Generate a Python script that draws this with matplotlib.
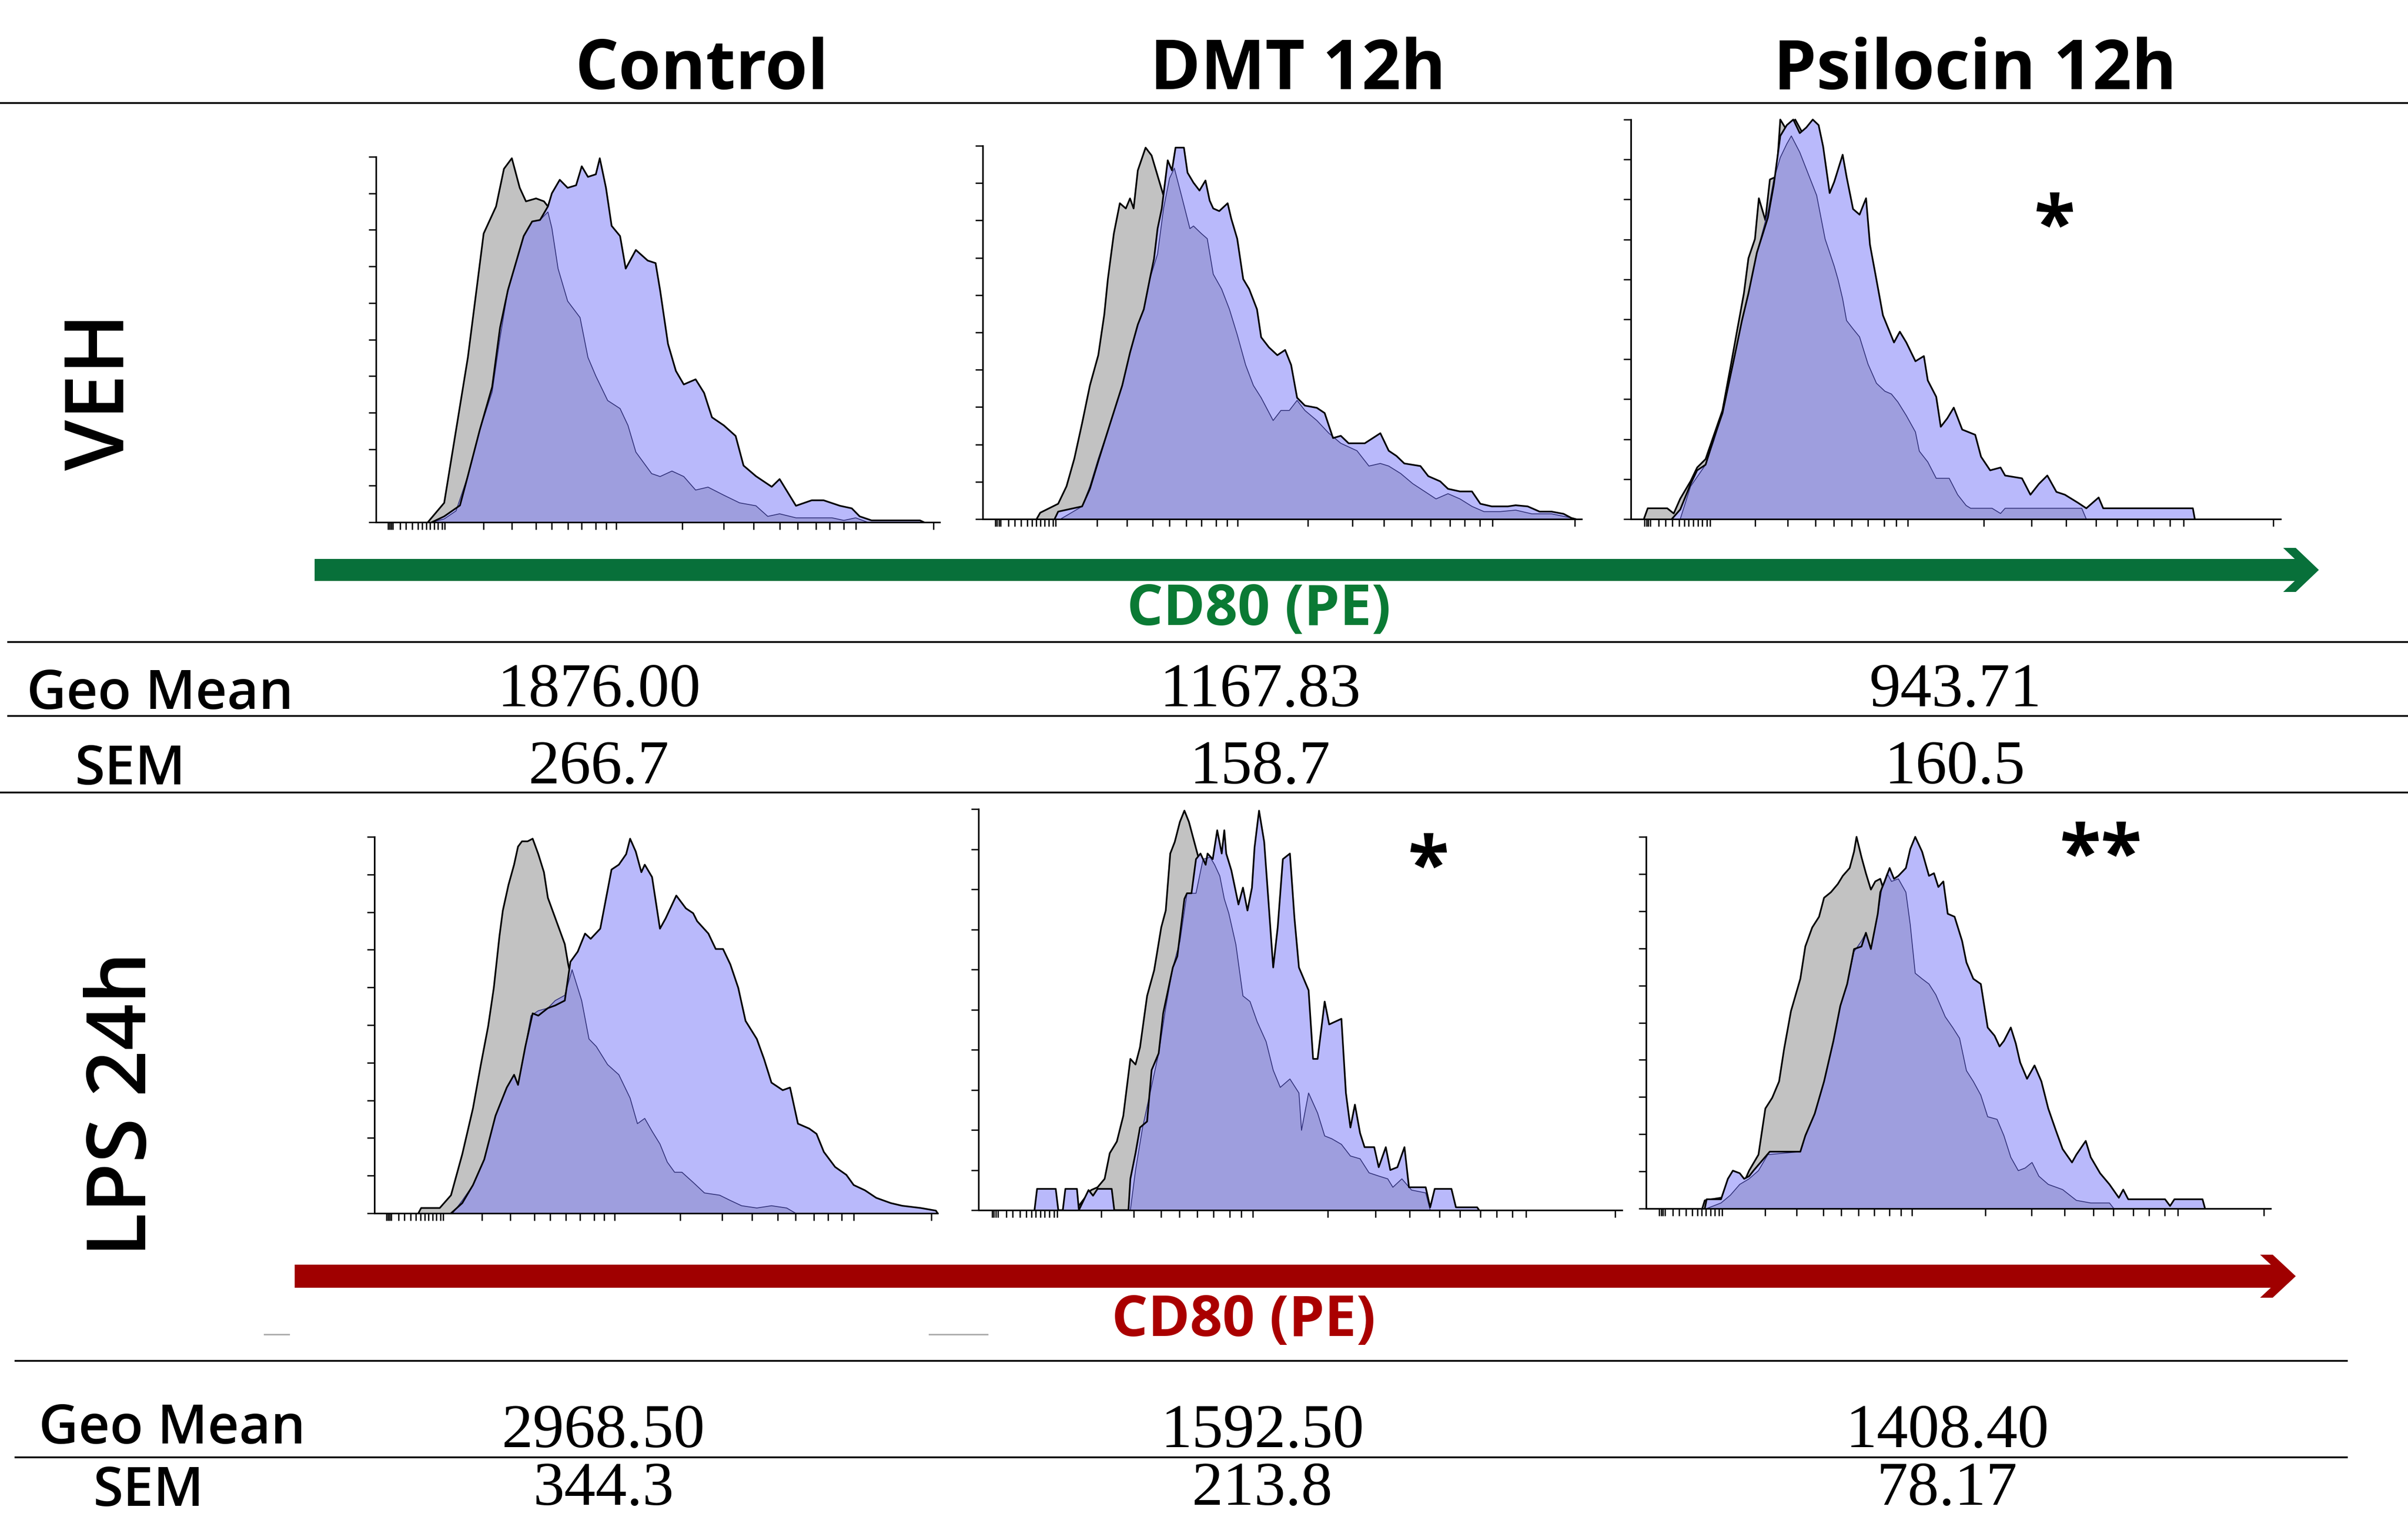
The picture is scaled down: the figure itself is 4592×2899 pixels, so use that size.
import matplotlib
matplotlib.use('Agg')
import matplotlib.pyplot as plt

W, H = 4592, 2899

col_labels = ['Control', 'DMT 12h', 'Psilocin 12h']
row_labels = ['VEH', 'LPS 24h']
axis_label = 'CD80 (PE)'

veh_geo = ['1876.00', '1167.83', '943.71']
veh_sem = ['266.7', '158.7', '160.5']
lps_geo = ['2968.50', '1592.50', '1408.40']
lps_sem = ['344.3', '213.8', '78.17']

veh_stars = ['', '', '*']
lps_stars = ['', '*', '**']

# histograms: x = channel (0-1000 of the axis), y = % of max
# gray = unstained, light = light lavender overlay, dark = darker purple overlay
veh_ctrl_gray_x = [92, 121, 142, 163, 177, 191, 213, 227, 241, 255, 266, 284, 298, 305, 340, 380, 420, 460, 520, 600, 700, 800]
veh_ctrl_gray_y = [0, 5.3, 25.2, 45.1, 62.0, 79.0, 86.4, 96.7, 99.6, 91.5, 87.8, 88.6, 87.8, 86.4, 75, 55, 38, 25, 14, 6, 2, 0]
veh_ctrl_light_x = [99, 121, 149, 163, 184, 206, 220, 234, 248, 262, 277, 291, 305, 312, 326, 340, 355, 365, 376, 390,
                    397, 408, 418, 433, 443, 461, 482, 496, 504, 518, 532, 546, 567, 582, 596, 617, 638, 652, 674, 702,
                    716, 745, 773, 794, 823, 844, 858, 879, 965, 972]
veh_ctrl_light_y = [0, 1.6, 4.6, 12.7, 25.2, 37.0, 53.2, 63.5, 70.9, 78.3, 82.3, 82.7, 86.4, 90.0, 93.7, 91.5, 92.2, 97.4, 94.5, 95.2,
                    99.6, 91.5, 81.1, 78.3, 69.4, 74.5, 71.6, 70.9, 63.5, 48.8, 41.4, 37.7, 39.1, 35.4, 28.7, 26.5, 23.6, 15.5, 12.6, 9.7,
                    11.8, 4.5, 6.0, 6.0, 4.5, 3.8, 1.6, 0.5, 0.5, 0]
veh_ctrl_dark_x = [99, 121, 142, 163, 184, 206, 220, 234, 248, 262, 277, 291, 305, 312, 323, 340, 362, 376, 390, 411,
                   433, 447, 461, 489, 504, 525, 546, 567, 589, 617, 645, 674, 695, 716, 745, 809, 830, 851, 872]
veh_ctrl_dark_y = [0, 0.9, 3.1, 12.7, 25.2, 35.6, 50.4, 63.5, 70.9, 78.3, 82.3, 82.7, 84.9, 80.5, 69.4, 60.5, 56.0, 45.1, 40.0, 33.3,
                   31.1, 26.5, 19.2, 13.3, 12.5, 14.0, 12.5, 8.8, 9.6, 7.4, 5.3, 4.5, 1.6, 2.3, 1.2, 1.2, 0.5, 1.2, 0]

veh_dmt_gray_x = [90, 96, 126, 140, 153, 166, 179, 193, 203, 209, 219, 229, 239, 246, 252, 259, 272, 282, 292, 302,
                  330, 360, 400, 460, 520, 600, 700, 800]
veh_dmt_gray_y = [0, 1.7, 4.1, 8.8, 16.2, 25.7, 35.8, 43.9, 54.8, 64.3, 76.5, 84.6, 83.2, 85.9, 83.2, 93.4, 99.5, 97.4, 92.0, 86.6,
                  70, 50, 35, 20, 12, 6, 2, 0]
veh_dmt_light_x = [120, 126, 166, 179, 193, 213, 233, 246, 259, 269, 279, 286, 292, 299, 309, 316, 322, 336, 342, 352,
                   362, 372, 379, 385, 395, 409, 415, 425, 435, 445, 458, 465, 478, 492, 505, 515, 525, 538, 558, 571,
                   585, 598, 611, 638, 664, 678, 691, 704, 731, 744, 764, 777, 797, 817, 831, 850, 877, 890, 910, 930,
                   950, 970, 983, 990]
veh_dmt_light_y = [0, 2.0, 3.4, 8.1, 15.5, 25.7, 35.8, 44.6, 52.1, 56.2, 64.3, 69.7, 77.8, 83.2, 96.1, 93.4, 99.5, 99.5, 92.8, 90.1,
                   88.0, 90.7, 85.3, 83.2, 82.5, 84.6, 80.5, 75.1, 64.3, 61.6, 56.2, 48.7, 46.0, 43.9, 45.3, 41.3, 32.5, 30.4, 29.8, 28.4,
                   21.7, 22.3, 20.3, 20.3, 23.0, 18.3, 16.9, 14.9, 14.2, 11.5, 10.1, 8.1, 7.4, 7.4, 4.1, 3.4, 3.4, 3.7, 3.4, 2.0,
                   2.0, 1.4, 0.3, 0]
veh_dmt_dark_x = [130, 166, 179, 193, 213, 233, 246, 259, 269, 279, 292, 302, 312, 320, 332, 346, 352, 365, 375, 385,
                  399, 412, 425, 439, 452, 465, 485, 498, 512, 525, 538, 558, 578, 598, 625, 645, 664, 678, 698, 718,
                  738, 757, 777, 797, 817, 837, 864, 890, 917, 950, 983, 990]
veh_dmt_dark_y = [0, 3.4, 8.8, 16.2, 25.7, 35.8, 44.6, 52.1, 56.2, 64.3, 71.0, 83.2, 91.3, 94.0, 86.6, 77.8, 78.5, 76.5, 75.1, 65.6,
                  61.6, 56.2, 49.4, 41.3, 35.8, 32.5, 26.4, 29.1, 29.1, 31.8, 29.1, 26.4, 23.0, 20.3, 18.3, 14.2, 14.9, 14.2, 12.2, 9.5,
                  7.4, 5.4, 6.8, 5.4, 3.4, 2.0, 2.0, 2.4, 1.4, 1.4, 0.3, 0]

veh_psi_gray_x = [20, 26, 56, 66, 76, 92, 102, 115, 125, 141, 155, 164, 174, 181, 191, 197, 207, 214, 224, 230,
                  240, 253, 263, 290, 330, 380, 430, 500, 580, 680, 780]
veh_psi_gray_y = [0, 2.7, 2.7, 1.4, 5.1, 9.5, 12.9, 15.0, 19.7, 27.2, 39.5, 47.6, 56.5, 65.3, 70.1, 80.3, 74.8, 85.0, 85.7, 100,
                  97.3, 100, 97, 85, 65, 45, 28, 14, 6, 2, 0]
veh_psi_light_x = [63, 76, 92, 102, 115, 128, 141, 158, 171, 181, 194, 211, 220, 230, 240, 250, 260, 270, 280, 289,
                   296, 306, 313, 326, 332, 342, 352, 362, 368, 378, 388, 405, 414, 424, 438, 451, 457, 470, 477, 487,
                   497, 510, 530, 539, 553, 569, 576, 602, 615, 628, 641, 655, 668, 688, 701, 720, 727, 799, 865, 868]
veh_psi_light_y = [0, 2.4, 8.8, 12.2, 13.6, 20.4, 26.5, 39.5, 49.7, 56.5, 66.7, 75.5, 83.7, 95.9, 98.6, 100, 96.6, 98.0, 100, 98.6,
                   93.2, 81.6, 84.4, 91.2, 85.7, 77.6, 76.2, 80.3, 68.7, 59.9, 51.0, 44.2, 46.9, 44.2, 39.5, 40.8, 34.7, 30.6, 23.1, 25.2,
                   27.9, 22.4, 21.1, 15.6, 12.2, 12.9, 10.9, 10.2, 6.1, 8.8, 10.9, 6.8, 6.1, 4.1, 2.7, 5.4, 2.7, 2.7, 2.7, 0]
veh_psi_dark_x = [76, 92, 115, 128, 141, 158, 171, 181, 194, 211, 220, 230, 240, 247, 260, 273, 286, 299, 313, 319,
                  326, 332, 342, 352, 365, 378, 391, 401, 411, 424, 438, 444, 457, 470, 490, 503, 516, 523, 556, 569,
                  576, 694, 701]
veh_psi_dark_y = [0, 8.2, 13.6, 19.7, 26.5, 39.5, 49.7, 56.5, 66.7, 76.9, 85.0, 90.5, 93.9, 95.9, 91.8, 86.4, 81.0, 70.1, 63.3, 59.9,
                  55.1, 49.7, 47.6, 45.6, 38.8, 34.0, 32.0, 31.3, 29.3, 25.9, 21.8, 17.0, 14.3, 10.2, 10.2, 6.1, 3.4, 2.7, 2.7, 1.4,
                  2.7, 2.7, 0]

lps_ctrl_gray_x = [78, 83, 116, 136, 156, 175, 189, 202, 212, 222, 228, 238, 248, 255, 262, 272, 281, 291, 301, 308,
                   318, 328, 338, 344, 360, 380, 410, 450, 500, 570, 650, 720]
lps_ctrl_gray_y = [0, 1.4, 1.4, 4.8, 15.7, 27.9, 39.5, 49.7, 59.9, 73.6, 80.4, 87.2, 92.6, 97.4, 98.8, 98.8, 99.5, 95.4, 90.6, 83.8,
                   79.7, 75.6, 71.5, 66.2, 55, 42, 28, 16, 8, 3, 1, 0]
lps_ctrl_light_x = [136, 156, 175, 195, 215, 235, 248, 255, 268, 281, 291, 308, 321, 338, 348, 361, 374, 384, 401, 414,
                    421, 434, 447, 454, 464, 474, 480, 493, 507, 517, 536, 553, 566, 573, 593, 606, 619, 632, 646, 659,
                    679, 692, 705, 725, 738, 752, 772, 785, 798, 818, 838, 851, 871, 891, 917, 937, 970, 997, 1000]
lps_ctrl_light_y = [0, 2.7, 7.5, 14.3, 25.9, 33.4, 36.8, 34.1, 44.3, 53.1, 52.5, 54.5, 55.2, 56.5, 66.8, 69.5, 74.3, 72.9, 75.6, 85.8,
                    91.3, 92.6, 95.4, 99.5, 96.1, 90.6, 92.6, 89.3, 75.6, 78.3, 84.4, 81.0, 79.7, 77.6, 74.3, 70.2, 70.2, 66.1, 59.9, 51.1,
                    46.3, 40.9, 34.7, 32.7, 33.4, 23.8, 22.5, 21.1, 16.3, 12.3, 10.2, 7.5, 6.1, 4.1, 2.7, 2.0, 1.4, 0.7, 0]
lps_ctrl_dark_x = [139, 156, 175, 195, 215, 235, 248, 255, 268, 278, 291, 308, 321, 338, 351, 368, 381, 394, 414, 434,
                   454, 467, 480, 493, 507, 520, 533, 546, 566, 586, 613, 632, 652, 679, 705, 732, 748]
lps_ctrl_dark_y = [0, 3.4, 7.5, 14.3, 25.9, 33.4, 36.8, 34.1, 44.3, 52.5, 53.8, 54.5, 56.5, 57.9, 64.7, 56.5, 46.3, 44.3, 39.5, 36.8,
                   30.6, 23.8, 25.2, 21.8, 18.4, 13.6, 10.9, 10.9, 8.2, 5.4, 4.8, 3.4, 2.0, 1.4, 2.0, 1.4, 0]

lps_dmt_gray_x = [150, 156, 164, 175, 185, 196, 204, 215, 225, 236, 244, 251, 262, 273, 284, 291, 298, 305, 313, 320,
                  327, 345, 370, 400, 440, 490, 550, 620, 700]
lps_dmt_gray_y = [0, 1.1, 2.8, 5.0, 5.7, 7.8, 14.2, 17.1, 23.5, 37.7, 36.3, 40.6, 53.4, 59.8, 70.5, 74.7, 88.9, 91.8, 96.8, 99.6,
                  96.8, 86, 70, 50, 30, 15, 6, 2, 0]
lps_dmt_light_x = [87, 91, 120, 124, 131, 135, 153, 156, 171, 178, 185, 207, 211, 233, 236, 244, 251, 262, 269, 280,
                   287, 302, 309, 320, 324, 331, 338, 345, 353, 356, 364, 371, 378, 382, 385, 393, 404, 411, 418, 425,
                   429, 436, 444, 451, 458, 465, 473, 484, 491, 498, 513, 520, 527, 538, 545, 564, 571, 578, 585, 593,
                   600, 615, 622, 633, 640, 651, 662, 669, 695, 702, 709, 735, 742, 775, 778]
lps_dmt_light_y = [0, 5.3, 5.3, 0, 0, 5.3, 5.3, 0, 5.0, 3.6, 5.3, 5.3, 0, 0, 7.8, 14.2, 20.6, 22.1, 34.9, 39.1,
                   49.1, 60.5, 63.3, 77.6, 79.0, 79.0, 87.5, 88.9, 86.1, 88.9, 87.5, 94.7, 88.9, 94.7, 88.9, 84.7, 76.2, 80.4, 74.7, 80.4,
                   90.4, 99.6, 91.8, 76.2, 60.5, 70.5, 87.5, 88.9, 72.9, 60.5, 54.8, 37.7, 37.7, 52.0, 46.3, 47.7, 29.2, 20.6, 26.3, 19.2,
                   15.7, 15.7, 10.7, 15.7, 10.0, 10.7, 15.7, 5.7, 5.7, 0.7, 5.3, 5.3, 0.7, 0.7, 0]
lps_dmt_dark_x = [236, 244, 255, 265, 280, 291, 302, 313, 324, 338, 349, 360, 367, 375, 382, 389, 400, 411, 422, 433,
                  447, 458, 469, 484, 498, 502, 513, 527, 538, 549, 564, 578, 593, 607, 622, 636, 644, 658, 673, 695,
                  702]
lps_dmt_dark_y = [0, 9.9, 20.6, 28.0, 39.1, 50.5, 60.5, 67.0, 79.0, 79.0, 87.5, 88.0, 86.1, 83.3, 77.6, 74.0, 66.2, 53.4, 52.0, 47.0,
                  42.0, 34.9, 30.6, 32.7, 29.2, 19.9, 29.2, 24.2, 18.5, 17.8, 16.4, 13.5, 12.8, 9.3, 8.5, 7.8, 5.7, 7.8, 5.0, 4.3,
                  0]

lps_psi_gray_x = [90, 94, 120, 150, 165, 180, 191, 202, 213, 221, 232, 247, 255, 266, 277, 285, 296, 307, 315, 326,
                  333, 337, 345, 352, 360, 367, 375, 400, 430, 470, 520, 580, 650, 720]
lps_psi_gray_y = [0, 2.2, 2.9, 4.4, 10.2, 14.5, 26.9, 29.8, 34.2, 42.9, 53.1, 61.8, 70.5, 75.6, 78.5, 83.6, 85.1, 87.3, 89.5, 91.6,
                  96.0, 100, 94.5, 90.2, 85.8, 88.0, 88.7, 75, 55, 35, 18, 8, 3, 0]
lps_psi_light_x = [94, 97, 120, 131, 139, 150, 157, 165, 172, 198, 225, 247, 255, 270, 285, 300, 311, 322, 333, 345,
                   352, 360, 371, 375, 382, 390, 397, 404, 416, 423, 431, 442, 453, 461, 468, 476, 483, 494, 506, 513,
                   524, 536, 547, 558, 566, 573, 584, 592, 599, 610, 622, 633, 644, 656, 667, 682, 689, 704, 712, 727,
                   742, 757, 764, 772, 831, 839, 846, 891, 895]
lps_psi_light_y = [0, 2.5, 2.5, 8.0, 10.2, 9.5, 8.0, 8.7, 10.2, 15.3, 15.3, 15.3, 19.6, 25.5, 34.2, 45.1, 54.5, 60.4, 69.8, 70.5,
                   74.2, 69.8, 79.3, 85.1, 88.0, 91.6, 88.7, 89.5, 91.6, 96.7, 100, 96.0, 89.5, 90.2, 86.5, 88.0, 79.3, 78.5, 72.0, 66.2,
                   61.8, 60.4, 48.7, 46.5, 43.6, 45.1, 48.7, 44.4, 39.3, 34.9, 38.5, 34.2, 26.9, 21.1, 16.0, 12.4, 14.5, 18.2, 13.8, 9.5,
                   6.5, 2.9, 5.1, 2.5, 2.5, 0.7, 2.5, 2.5, 0]
lps_psi_dark_x = [97, 120, 135, 150, 165, 180, 195, 247, 255, 270, 285, 300, 311, 322, 333, 345, 352, 360, 371, 378,
                  386, 393, 404, 416, 423, 431, 442, 453, 464, 479, 491, 502, 513, 524, 536, 547, 562, 573, 584, 596,
                  607, 618, 629, 644, 667, 689, 712, 742, 749]
lps_psi_dark_y = [0, 1.5, 3.6, 6.5, 8.0, 10.2, 14.5, 15.3, 19.6, 25.5, 34.2, 45.1, 54.5, 60.4, 69.1, 72.0, 74.2, 69.8, 79.3, 86.5,
                  90.2, 88.0, 88.7, 85.1, 76.4, 63.3, 61.8, 60.4, 57.5, 51.6, 48.7, 45.8, 37.1, 34.2, 30.5, 24.7, 24.0, 19.6, 13.8, 10.2,
                  10.9, 12.4, 8.7, 6.5, 5.1, 2.2, 1.5, 1.5, 0]

panels = [
    [(veh_ctrl_gray_x, veh_ctrl_gray_y, veh_ctrl_light_x, veh_ctrl_light_y, veh_ctrl_dark_x, veh_ctrl_dark_y),
     (veh_dmt_gray_x, veh_dmt_gray_y, veh_dmt_light_x, veh_dmt_light_y, veh_dmt_dark_x, veh_dmt_dark_y),
     (veh_psi_gray_x, veh_psi_gray_y, veh_psi_light_x, veh_psi_light_y, veh_psi_dark_x, veh_psi_dark_y)],
    [(lps_ctrl_gray_x, lps_ctrl_gray_y, lps_ctrl_light_x, lps_ctrl_light_y, lps_ctrl_dark_x, lps_ctrl_dark_y),
     (lps_dmt_gray_x, lps_dmt_gray_y, lps_dmt_light_x, lps_dmt_light_y, lps_dmt_dark_x, lps_dmt_dark_y),
     (lps_psi_gray_x, lps_psi_gray_y, lps_psi_light_x, lps_psi_light_y, lps_psi_dark_x, lps_psi_dark_y)],
]

# biexponential-looking tick marks along the CD80 axis
x_ticks = [21, 24, 27, 30, 43, 53, 64, 74, 82, 89, 96, 103, 110, 117, 122,
           191, 241, 284, 312, 340, 365, 390, 408, 426,
           543, 617, 670, 716, 748, 780, 805, 830, 851, 989]

# panel boxes in pixels: left, top, right, bottom
boxes = [[(717, 299, 1792, 996), (1874, 278, 3016, 990), (3110, 228, 4349, 990)],
         [(714, 1596, 1788, 2314), (1866, 1543, 3093, 2308), (3139, 1596, 4330, 2305)]]

GRAY = '#c2c2c2'
LIGHT = '#b9b9fb'
DARK = '#9e9ede'
SANS = ['Open Sans', 'DejaVu Sans']
SERIF = ['Liberation Serif', 'DejaVu Serif']

fig = plt.figure(figsize=(W / 100, H / 100), dpi=100)
bg = fig.add_axes([0, 0, 1, 1])
bg.set_xlim(0, W)
bg.set_ylim(H, 0)
bg.axis('off')


def draw_panel(box, data):
    x0, y0, x1, y1 = box
    ax = fig.add_axes([x0 / W, 1 - y1 / H, (x1 - x0) / W, (y1 - y0) / H])
    gx, gy, lx, ly, dx, dy = data
    ax.fill_between(gx, gy, 0, color=GRAY, lw=0, zorder=1)
    ax.plot(gx, gy, color='black', lw=2.3, zorder=1.5, clip_on=False)
    ax.fill_between(lx, ly, 0, color=LIGHT, lw=0, zorder=2)
    ax.fill_between(dx, dy, 0, color=DARK, lw=0, zorder=3)
    ax.plot(dx, dy, color='#32327a', lw=1.2, zorder=3.5, clip_on=False)
    ax.plot(lx, ly, color='black', lw=2.3, zorder=4, clip_on=False)
    ax.set_xlim(0, 1000)
    ax.set_ylim(0, 100)
    for s in ['top', 'right']:
        ax.spines[s].set_visible(False)
    for s in ['left', 'bottom']:
        ax.spines[s].set_linewidth(2.2)
        ax.spines[s].set_zorder(5)
    ax.set_xticks(x_ticks)
    ax.set_yticks(range(0, 101, 10))
    ax.tick_params(direction='out', length=10, width=1.8, labelleft=False, labelbottom=False)
    ax.patch.set_alpha(0)
    return ax


for r in range(2):
    for c in range(3):
        draw_panel(boxes[r][c], panels[r][c])

# header
for x, lab in zip([1338, 2475, 3766], col_labels):
    bg.text(x, 170, lab, ha='center', va='baseline', fontsize=94, fontweight='bold', family=SANS)
bg.plot([0, W], [196, 196], color='black', lw=2.5)

# row labels
bg.text(196, 747, row_labels[0], rotation=90, ha='center', va='center', fontsize=112, fontweight='semibold', family=SANS)
bg.text(237, 2106, row_labels[1], rotation=90, ha='center', va='center', fontsize=112, fontweight='semibold', family=SANS)


def arrow(x_start, tip, yc, half, head_half, color):
    bg.fill([x_start, tip - 24, tip - 24, x_start], [yc - half, yc - half, yc + half, yc + half], color=color, lw=0)
    bg.fill([tip - 68, tip - 44, tip, tip - 44, tip - 68, tip - 24],
            [yc - head_half, yc - head_half, yc, yc + head_half, yc + head_half, yc], color=color, lw=0)


arrow(600, 4422, 1087, 21, 42, '#08703a')
bg.text(2401, 1192, axis_label, ha='center', va='baseline', fontsize=78, fontweight='bold', color='#0a7a34', family=SANS)
arrow(562, 4378, 2434, 22, 41, '#a00000')
bg.text(2372, 2548, axis_label, ha='center', va='baseline', fontsize=78, fontweight='bold', color='#aa0000', family=SANS)

# faint dashes under the red arrow
bg.plot([504, 551], [2545, 2545], color='#a8a8a8', lw=2)
bg.plot([1772, 1883], [2545, 2545], color='#a8a8a8', lw=2)

# significance stars
bg.text(3918, 476, veh_stars[2], ha='center', va='baseline', fontsize=104, fontweight='bold', family=SANS)
bg.text(2724, 1698, lps_stars[1], ha='center', va='baseline', fontsize=104, fontweight='bold', family=SANS)
bg.text(4006, 1676, lps_stars[2], ha='center', va='baseline', fontsize=104, fontweight='bold', family=SANS)

# tables
val_x_veh = [1142, 2403, 3728]
val_x_lps = [1151, 2407, 3713]

bg.plot([15, W], [1224, 1224], color='black', lw=2.5)
bg.plot([15, W], [1365, 1365], color='black', lw=2.5)
bg.plot([0, W], [1511, 1511], color='black', lw=2.5)
bg.text(305, 1352, 'Geo Mean', ha='center', va='baseline', fontsize=75, fontweight='semibold', family=SANS)
bg.text(249, 1496, 'SEM', ha='center', va='baseline', fontsize=75, fontweight='semibold', family=SANS)
for x, g, s in zip(val_x_veh, veh_geo, veh_sem):
    bg.text(x, 1347, g, ha='center', va='baseline', fontsize=86, family=SERIF)
    bg.text(x, 1494, s, ha='center', va='baseline', fontsize=86, family=SERIF)

bg.plot([29, 4475], [2595, 2595], color='black', lw=2.5)
bg.plot([29, 4475], [2779, 2779], color='black', lw=2.5)
bg.text(328, 2753, 'Geo Mean', ha='center', va='baseline', fontsize=75, fontweight='semibold', family=SANS)
bg.text(284, 2872, 'SEM', ha='center', va='baseline', fontsize=75, fontweight='semibold', family=SANS)
for x, g, s in zip(val_x_lps, lps_geo, lps_sem):
    bg.text(x, 2760, g, ha='center', va='baseline', fontsize=86, family=SERIF)
    bg.text(x, 2870, s, ha='center', va='baseline', fontsize=86, family=SERIF)

fig.savefig('out.png', dpi=100)
